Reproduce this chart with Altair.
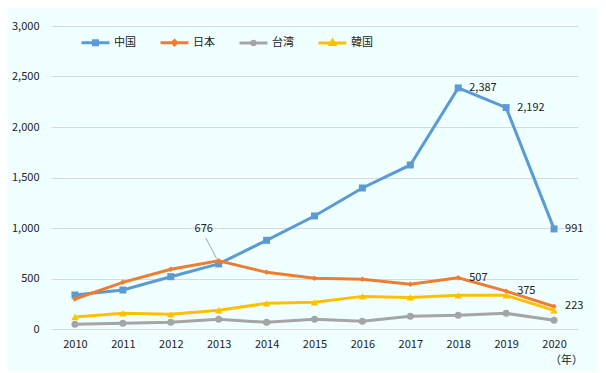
import altair as alt
import pandas as pd

years = [2010, 2011, 2012, 2013, 2014, 2015, 2016, 2017, 2018, 2019, 2020]
series_names = ["中国", "日本", "台湾", "韓国"]
china = [337, 386, 518, 644, 878, 1119, 1396, 1624, 2387, 2192, 991]
japan = [297, 462, 591, 676, 561, 502, 492, 442, 507, 375, 223]
taiwan = [46, 56, 66, 96, 66, 96, 76, 126, 135, 155, 86]
korea = [119, 155, 145, 185, 254, 264, 323, 313, 333, 333, 185]
y_ticks = [0, 500, 1000, 1500, 2000, 2500, 3000]

colors = ["#5B9BD5", "#ED7D31", "#A5A5A5", "#FFC000"]
shapes = ["square", "diamond", "circle", "triangle-up"]
sizes = [49, 30, 49, 55]
legend_paths = [
    "M-1,0H1M-0.14,-0.14H0.14V0.14H-0.14Z",
    "M-1,0H1M0,-0.15L0.15,0L0,0.15L-0.15,0Z",
    "M-1,0H1M-0.12,0A0.12,0.12 0 1,0 0.12,0A0.12,0.12 0 1,0 -0.12,0Z",
    "M-1,0H1M0,-0.17L0.16,0.11H-0.16Z",
]
label_points = [("中国", 2018), ("中国", 2019), ("中国", 2020),
                ("日本", 2018), ("日本", 2019), ("日本", 2020)]
callout_point = ("日本", 2013)

FONT = "Noto Sans CJK JP"
TXT = "#222222"

rows = []
for name, vals in zip(series_names, [china, japan, taiwan, korea]):
    for y, v in zip(years, vals):
        rows.append({"series": name, "year": str(y), "value": v,
                     "lab": (name, y) in label_points,
                     "call": (name, y) == callout_point})
df = pd.DataFrame(rows)
base = alt.Chart(df)

x_enc = alt.X("year:O", sort=[str(y) for y in years],
              scale=alt.Scale(type="point", padding=0.5),
              axis=alt.Axis(labelAngle=0, ticks=False, domain=False, grid=False,
                            labelPadding=9, labelFontSize=11, labelColor=TXT,
                            labelFont=FONT, title="（年）", titleX=515, titleY=31,
                            titleBaseline="middle", titleAlign="center",
                            titleFontWeight="normal", titleFontSize=11,
                            titleColor=TXT, titleFont=FONT))
y_enc = alt.Y("value:Q", scale=alt.Scale(domain=[0, 3000], nice=False),
              axis=alt.Axis(values=y_ticks, format=",d", ticks=False, domain=False,
                            gridColor="#D9D9D9", gridWidth=1, labelPadding=12,
                            labelFontSize=11, labelColor=TXT, labelFont=FONT,
                            title=None))

layers = []
for i, name in enumerate(series_names):
    sub = base.transform_filter(alt.datum.series == name)
    layers.append(sub.mark_line(strokeWidth=3, color=colors[i]).encode(x=x_enc, y=y_enc))
    layers.append(sub.mark_point(filled=True, opacity=1, color=colors[i],
                                 shape=shapes[i], size=sizes[i])
                  .encode(x=x_enc, y=y_enc))

leg = alt.Legend(title=None, orient="none", legendX=29, legendY=1,
                 direction="horizontal", columns=4, symbolSize=784,
                 symbolStrokeWidth=3, labelFont=FONT, labelFontSize=11,
                 labelColor=TXT, labelOffset=3, columnPadding=18,
                 symbolOpacity=1)
legend_layer = base.transform_filter("datum.value < 0").mark_point(
    filled=False, opacity=1, strokeWidth=3, size=784).encode(
    x=x_enc, y=y_enc,
    color=alt.Color("series:N", scale=alt.Scale(domain=series_names, range=colors), legend=leg),
    shape=alt.Shape("series:N", scale=alt.Scale(domain=series_names, range=legend_paths), legend=leg),
)
layers.append(legend_layer)

labels = base.transform_filter("datum.lab").mark_text(
    align="left", baseline="middle", dx=11, font=FONT, fontSize=11, color=TXT
).encode(x=x_enc, y=y_enc, text=alt.Text("value:Q", format=",d"))
callout = base.transform_filter("datum.call").mark_text(
    align="center", baseline="middle", dx=-15, dy=-32, font=FONT, fontSize=11, color=TXT
).encode(x=x_enc, y=y_enc, text=alt.Text("value:Q", format=",d"))
leader = base.transform_filter("datum.call").mark_rule(
    color="#A6A6A6", strokeWidth=1, xOffset=-2, yOffset=-2, x2Offset=-13, y2Offset=-23
).encode(x=x_enc, y=y_enc, x2=alt.X2("year:O"), y2=alt.Y2("value:Q"))
layers += [leader, labels, callout]

chart = alt.layer(*layers).properties(
    width=527, height=303,
    padding={"left": 43, "top": 18, "right": 20, "bottom": 42},
    autosize=alt.AutoSizeParams(type="none"),
    background="#F0FFFF",
).configure_view(strokeWidth=0)

chart.save("out.html", embed_options={"renderer": "svg", "actions": False})
